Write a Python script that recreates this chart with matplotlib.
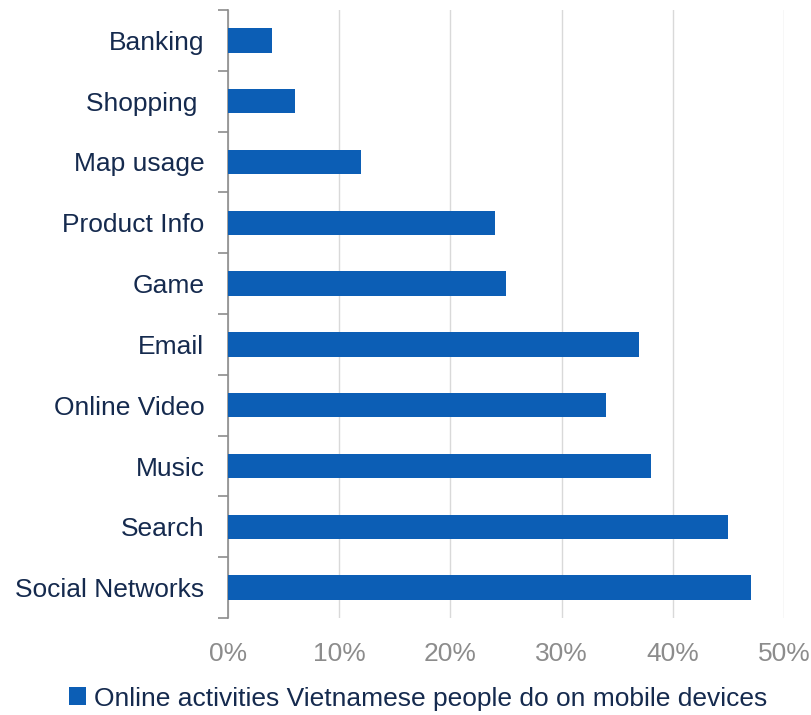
import matplotlib
matplotlib.use("Agg")
import matplotlib.pyplot as plt
from matplotlib.patches import Patch
from matplotlib.ticker import PercentFormatter

categories = ["Banking", "Shopping ", "Map usage", "Product Info", "Game",
              "Email", "Online Video", "Music", "Search", "Social Networks"]
values = [4, 6, 12, 24, 25, 37, 34, 38, 45, 47]
x_ticks = [0, 10, 20, 30, 40, 50]
series_label = "Online activities Vietnamese people do on mobile devices"

BAR = "#0C5EB5"
NAVY = "#152A4E"
GREY = "#8C8C8C"
FS = 19

plt.rcParams["font.family"] = ["Liberation Sans", "DejaVu Sans"]

fig = plt.figure(figsize=(8.11, 7.15), dpi=100)
ax = fig.add_axes([228 / 811, 1 - 618 / 715, 556 / 811, 608 / 715])

n = len(categories)
ypos = list(range(n))
ax.barh(ypos, values, height=0.4, color=BAR, zorder=3)

ax.set_ylim(n - 0.5, -0.5)
ax.set_xlim(0, 50)
ax.set_xticks(x_ticks)
ax.xaxis.set_major_formatter(PercentFormatter(decimals=0))
ax.grid(axis="x", color="#D9D9D9", linewidth=1, zorder=0)

# category labels between boundary ticks
ax.set_yticks([i - 0.5 for i in range(n + 1)])
ax.set_yticklabels([])
ax.set_yticks(ypos, minor=True)
ax.set_yticklabels(categories, minor=True, fontsize=FS, color=NAVY)
ax.tick_params(axis="y", which="major", length=7, width=1.2, color="#8C8C8C")
ax.tick_params(axis="y", which="minor", length=0, pad=17)
ax.tick_params(axis="x", length=0, pad=17, labelsize=FS, labelcolor=GREY)

for s in ["top", "right", "bottom"]:
    ax.spines[s].set_visible(False)
ax.spines["left"].set_color("#8C8C8C")
ax.spines["left"].set_linewidth(1.2)

handle = Patch(facecolor=BAR, edgecolor="none")
fig.legend([handle], [series_label], loc="center", bbox_to_anchor=(0.516, 0.023),
           frameon=False, fontsize=FS, labelcolor=NAVY,
           handlelength=0.65, handleheight=0.65, handletextpad=0.3)

fig.savefig("out.png", dpi=100)
